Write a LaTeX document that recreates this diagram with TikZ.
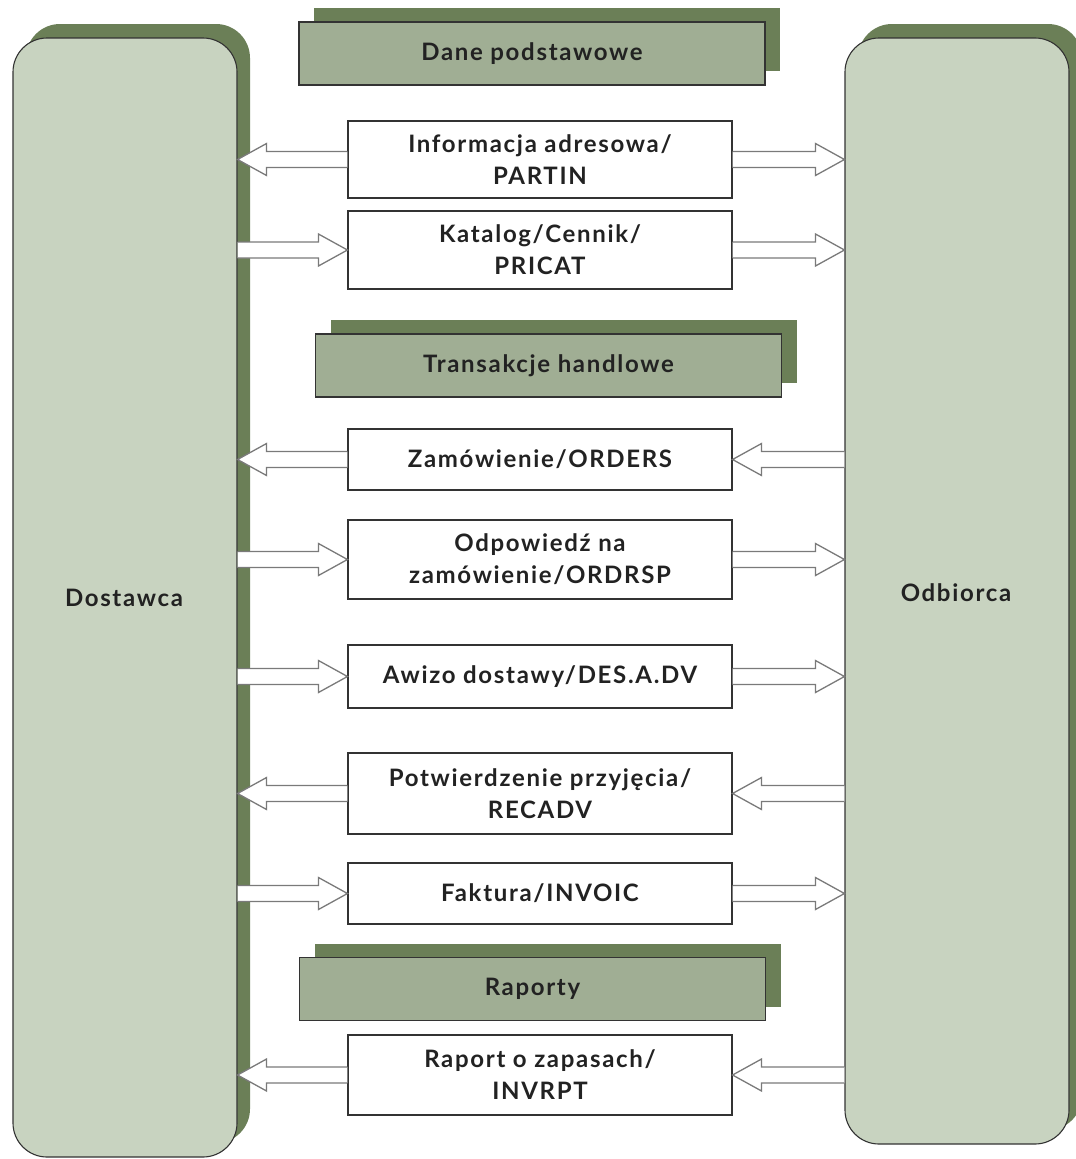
\documentclass[tikz,border=0pt]{standalone}
\usepackage{fontspec}
\setmainfont{Lato}[LetterSpace=7]
\usetikzlibrary{shadows,calc}
\definecolor{sage}{HTML}{C8D3C0}
\definecolor{moss}{HTML}{6B7F57}
\definecolor{headfill}{HTML}{A0AE94}
\definecolor{ink}{HTML}{222222}
\definecolor{edge}{HTML}{333333}
\definecolor{arrowline}{HTML}{7A7A7A}

% horizontal block arrow from #1 (tail) to #2 (tip)
\newcommand\blockarrow[2]{%
  \filldraw[blockarr] let \p1=(#1), \p2=(#2),
    \n1={(\x2>\x1) ? 1 : -1} in
    (\x1,\y1+8pt) -- (\x2-\n1*29pt,\y1+8pt) -- (\x2-\n1*29pt,\y1+16pt)
    -- (\x2,\y1) -- (\x2-\n1*29pt,\y1-16pt) -- (\x2-\n1*29pt,\y1-8pt)
    -- (\x1,\y1-8pt);
}

\begin{document}
\begin{tikzpicture}[x=1pt,y=-1pt,
  lbl/.style={font=\fontsize{24}{26}\selectfont\bfseries,text=ink},
  side/.style={draw=edge,line width=1.1pt,fill=sage,rounded corners=34pt,inner sep=0pt,
    general shadow={fill=moss,draw=none,shadow xshift=13pt,shadow yshift=14pt}},
  head/.style={lbl,draw=edge,line width=1.1pt,fill=headfill,minimum width=466pt,
    minimum height=63pt,inner sep=0pt,
    general shadow={fill=moss,draw=none,shadow xshift=15pt,shadow yshift=14pt}},
  msg/.style={draw=edge,line width=1.1pt,fill=white,minimum width=384pt,inner sep=0pt,
    align=center,font=\fontsize{24}{32}\selectfont\bfseries,text=ink},
  blockarr/.style={fill=white,draw=arrowline,line width=1.3pt,line join=miter}]

\useasboundingbox (0,0) rectangle (1076,1159);

% side panels
\node[side,minimum width=224pt,minimum height=1119pt] (dost) at (125,597.5) {};
\node[lbl] (dostlbl) at (124,598) {Dostawca};
\node[side,minimum width=224pt,minimum height=1106pt] (odb) at (957,591) {};
\node[lbl] (odblbl) at (956,593) {Odbiorca};

% section headers
\node[head] (h1) at (532,53.5) {Dane podstawowe};
\node[head] (h2) at (548.5,365.5) {Transakcje handlowe};
\node[head] (h3) at (532.5,989) {Raporty};

% messages
\node[msg,minimum height=77pt] (info) at (540,159.5) {Informacja adresowa/\\PARTIN};
\node[msg,minimum height=78pt] (kat)  at (540,250) {Katalog/Cennik/\\PRICAT};
\node[msg,minimum height=61pt] (zam)  at (540,459.5) {Zamówienie/ORDERS};
\node[msg,minimum height=79pt] (odp)  at (540,559.5) {Odpowiedź na\\zamówienie/ORDRSP};
\node[msg,minimum height=63pt] (awi)  at (540,676.5) {Awizo dostawy/DES.A.DV};
\node[msg,minimum height=81pt] (pot)  at (540,793.5) {Potwierdzenie przyjęcia/\\RECADV};
\node[msg,minimum height=61pt] (fak)  at (540,893.5) {Faktura/INVOIC};
\node[msg,minimum height=80pt] (rap)  at (540,1075) {Raport o zapasach/\\INVRPT};

% message flows
\blockarrow{info.west}{dost.east |- info.west}
\blockarrow{info.east}{odb.west |- info.east}
\blockarrow{dost.east |- kat.west}{kat.west}
\blockarrow{kat.east}{odb.west |- kat.east}
\blockarrow{zam.west}{dost.east |- zam.west}
\blockarrow{odb.west |- zam.east}{zam.east}
\blockarrow{dost.east |- odp.west}{odp.west}
\blockarrow{odp.east}{odb.west |- odp.east}
\blockarrow{dost.east |- awi.west}{awi.west}
\blockarrow{awi.east}{odb.west |- awi.east}
\blockarrow{pot.west}{dost.east |- pot.west}
\blockarrow{odb.west |- pot.east}{pot.east}
\blockarrow{dost.east |- fak.west}{fak.west}
\blockarrow{fak.east}{odb.west |- fak.east}
\blockarrow{rap.west}{dost.east |- rap.west}
\blockarrow{odb.west |- rap.east}{rap.east}
\end{tikzpicture}
\end{document}
